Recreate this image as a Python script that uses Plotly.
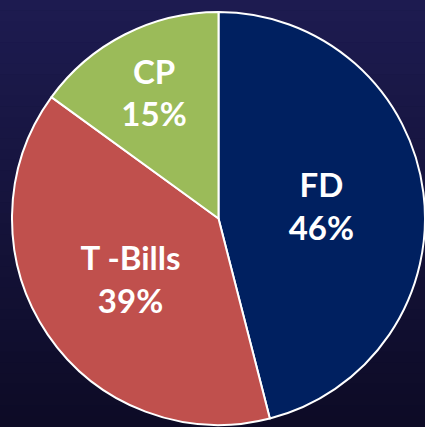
import plotly.graph_objects as go

labels = ["FD", "T -Bills", "CP"]
values = [46, 39, 15]
colors = ["#002060", "#C0504D", "#9BBB59"]

W, H = 425, 427
top_rgb = (0x1D, 0x1B, 0x50)
bot_rgb = (0x0D, 0x0B, 0x26)

shapes = []
n = 40
for i in range(n):
    t = i / (n - 1)
    c = tuple(round(top_rgb[k] + (bot_rgb[k] - top_rgb[k]) * t) for k in range(3))
    shapes.append(dict(type="rect", xref="paper", yref="paper",
                       x0=0, x1=1, y0=1 - (i + 1) / n, y1=1 - i / n + 0.001,
                       fillcolor="rgb(%d,%d,%d)" % c, line=dict(width=0), layer="below"))

fig = go.Figure(go.Pie(
    labels=labels, values=values, sort=False, direction="clockwise", rotation=0,
    marker=dict(colors=colors, line=dict(color="white", width=2)),
    texttemplate="<b>%{label}</b><br><b>%{percent:.0%}</b>",
    textposition="inside", insidetextorientation="horizontal",
    textfont=dict(family="Lato, Open Sans, sans-serif", size=33, color="white"),
    domain=dict(x=[12 / W, 1], y=[0, 417 / H]),
    showlegend=False, hoverinfo="skip",
))
fig.update_layout(width=W, height=H, margin=dict(l=0, r=0, t=0, b=0),
                  paper_bgcolor="#15133a", shapes=shapes)
fig.write_html("out.html", config={"displayModeBar": False},
               post_script="document.body.style.margin='0';document.body.style.background='#0d0b26';")
